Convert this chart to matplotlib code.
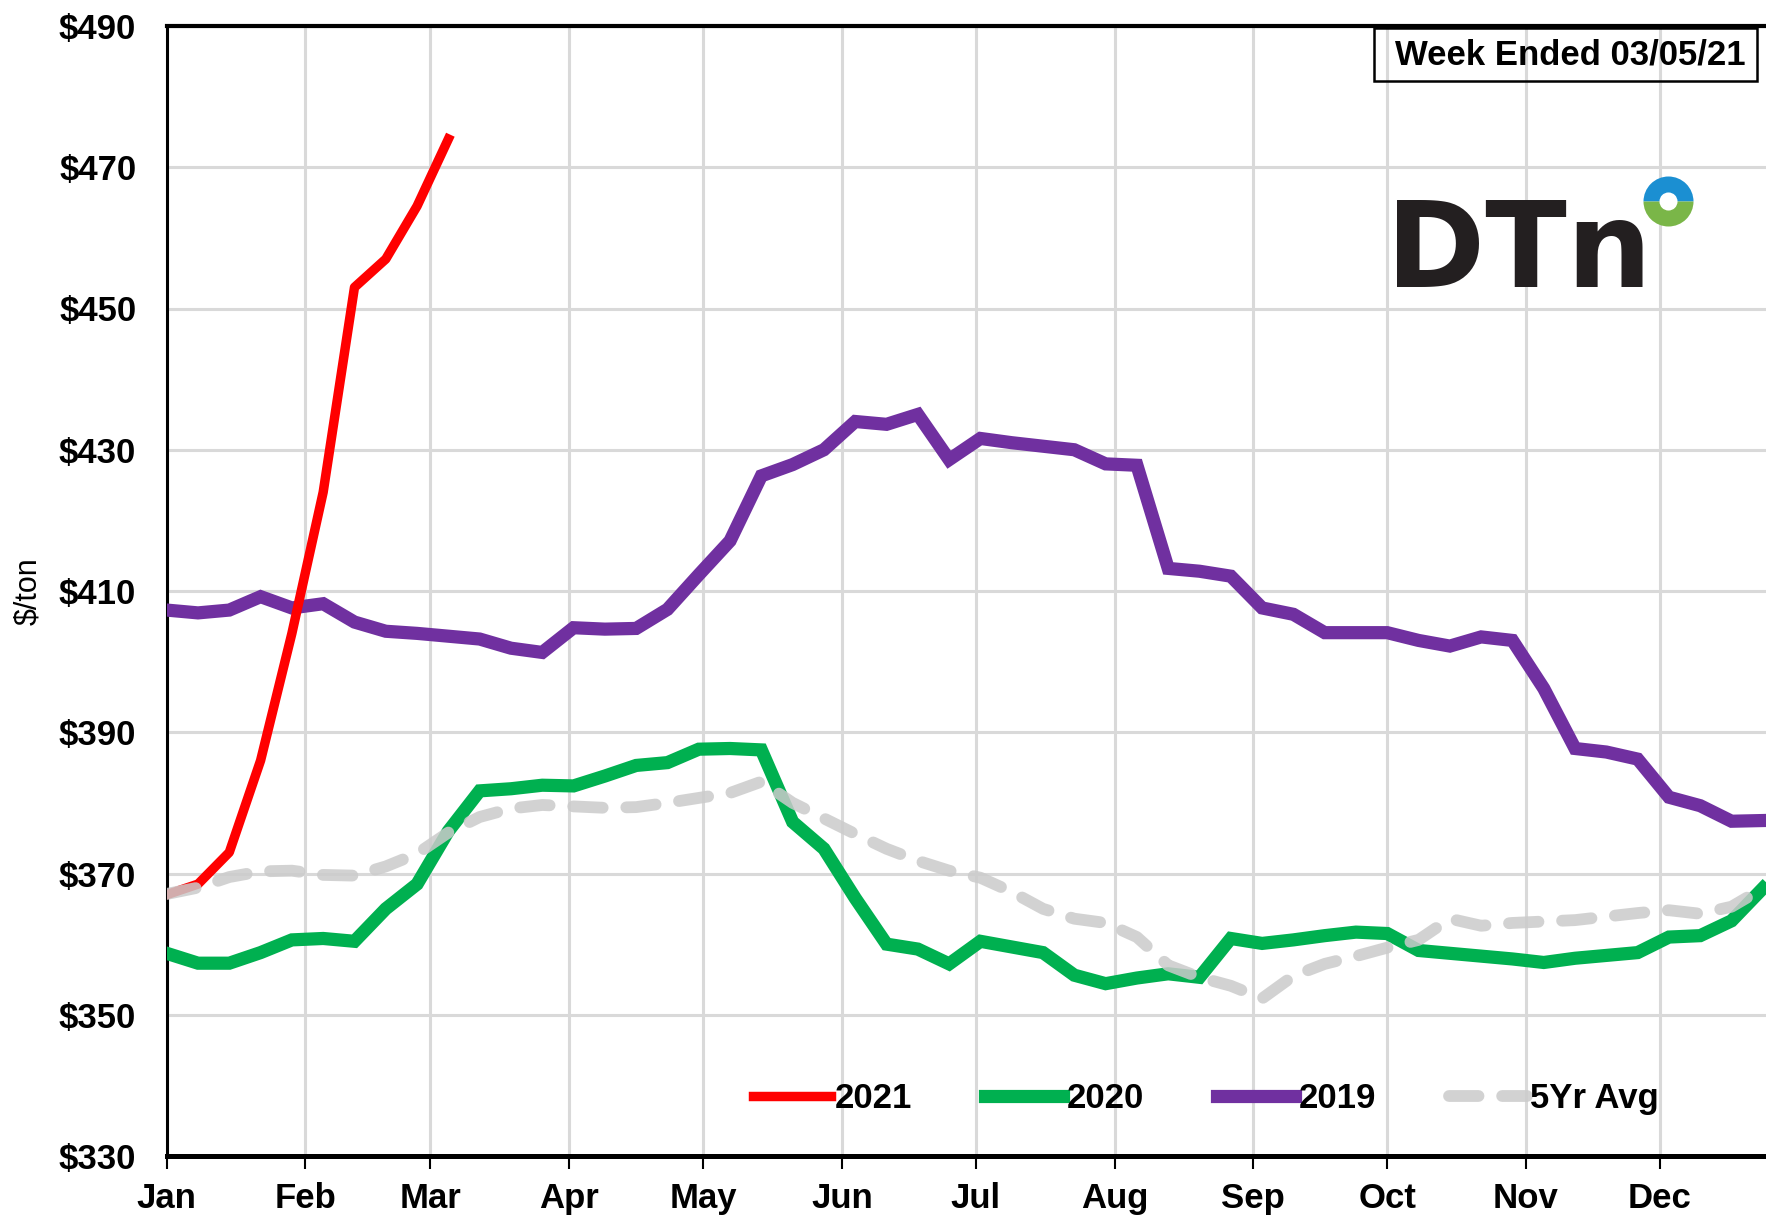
import numpy as np
import matplotlib
matplotlib.use("Agg")
import matplotlib.pyplot as plt
from matplotlib.lines import Line2D
from matplotlib.patches import Rectangle

# ---------------- data ----------------
months = ["Jan", "Feb", "Mar", "Apr", "May", "Jun", "Jul", "Aug", "Sep", "Oct", "Nov", "Dec"]
month_start_day = [0, 31, 59, 90, 120, 151, 181, 212, 243, 273, 304, 334]
y_ticks = [330, 350, 370, 390, 410, 430, 450, 470, 490]
y_tick_labels = ["$330", "$350", "$370", "$390", "$410", "$430", "$450", "$470", "$490"]

week_day = np.arange(52) * 7          # weekly observations, day of year

price_2021 = [367.0, 368.5, 373.0, 386.0, 404.0, 424.0, 453.0, 457.0, 464.5, 474.0]

price_2020 = [358.7, 357.3, 357.3, 358.8, 360.6, 360.8, 360.4, 365.0, 368.5, 376.0,
              381.7, 382.0, 382.5, 382.4, 383.8, 385.3, 385.7, 387.6, 387.7, 387.5,
              377.3, 373.5, 366.5, 360.0, 359.3, 357.2, 360.4, 359.6, 358.8, 355.6,
              354.4, 355.2, 355.8, 355.3, 360.8, 360.1, 360.6, 361.2, 361.7, 361.5,
              359.1, 358.7, 358.3, 357.9, 357.4, 358.0, 358.4, 358.8, 361.0, 361.2,
              363.3, 367.9]

price_2019 = [407.3, 406.9, 407.3, 409.2, 407.6, 408.2, 405.6, 404.3, 404.0, 403.6,
              403.2, 401.9, 401.3, 404.8, 404.6, 404.7, 407.4, 412.3, 417.1, 426.3,
              427.9, 430.0, 434.0, 433.6, 435.0, 428.6, 431.6, 431.0, 430.5, 430.0,
              428.0, 427.8, 413.2, 412.8, 412.1, 407.6, 406.7, 404.1, 404.1, 404.1,
              403.0, 402.2, 403.5, 403.0, 396.2, 387.7, 387.2, 386.2, 380.8, 379.6,
              377.4, 377.5]

price_5yr = [367.1, 368.0, 369.5, 370.3, 370.4, 369.8, 369.7, 371.0, 372.8, 375.8,
             378.0, 379.2, 379.7, 379.5, 379.3, 379.4, 380.0, 380.7, 381.4, 383.0,
             380.0, 377.8, 375.6, 373.5, 371.8, 370.4, 369.4, 367.4, 365.0, 363.6,
             363.0, 361.0, 357.0, 355.3, 354.1, 352.3, 355.5, 357.2, 358.3, 359.5,
             360.6, 363.6, 362.6, 363.0, 363.2, 363.4, 363.9, 364.4, 364.8, 364.3,
             365.3, 367.9]

series_labels = ["2021", "2020", "2019", "5Yr Avg"]

# ---------------- figure ----------------
W, H = 1766, 1218
fig = plt.figure(figsize=(W / 100, H / 100), dpi=100)
FONT = "Liberation Sans"

left_px, right_px, top_px, bot_px = 166.7, 166.7 + 365 * 4.471, 26, 1156
ax = fig.add_axes([left_px / W, 1 - bot_px / H, (right_px - left_px) / W, (bot_px - top_px) / H])

ax.plot(week_day, price_2019, color="#7030a0", lw=9.5, solid_joinstyle="miter",
        zorder=3, label=series_labels[2])
ax.plot(week_day, price_2020, color="#00b050", lw=9.5, solid_joinstyle="miter",
        zorder=4, label=series_labels[1])
ax.plot(week_day[:len(price_2021)], price_2021, color="#ff0000", lw=6.8,
        solid_joinstyle="round", zorder=5, label=series_labels[0])
ax.plot(week_day, price_5yr, color="#cbcbcb", alpha=0.85, lw=8.5,
        dashes=(2.5, 2.0), dash_capstyle="round", zorder=6, label=series_labels[3])

ax.set_xlim(0, 365)
ax.set_ylim(330, 490)
ax.set_xticks(month_start_day)
ax.set_xticklabels(months)
ax.set_yticks(y_ticks)
ax.set_yticklabels(y_tick_labels)

ax.grid(True, color="#d9d9d9", lw=2.2, zorder=0)
ax.set_axisbelow(True)

for lab in ax.get_xticklabels() + ax.get_yticklabels():
    lab.set_fontfamily(FONT)
    lab.set_fontweight("bold")
    lab.set_fontsize(25)

ax.tick_params(axis="x", direction="out", length=9.4, width=1.5, pad=9, colors="black")
ax.tick_params(axis="y", length=0, pad=22)

ax.spines["right"].set_visible(False)
ax.spines["left"].set_linewidth(2.2)
ax.spines["bottom"].set_linewidth(3.6)
ax.spines["top"].set_linewidth(3.0)
for s in ax.spines.values():
    s.set_color("black")

fig.text(28 / W, 1 - 591 / H, "$/ton", rotation=90, ha="center", va="center",
         fontsize=22, family=FONT)

# legend
handles, labels = ax.get_legend_handles_labels()
hmap = dict(zip(labels, handles))
leg = ax.legend([hmap[l] for l in series_labels], series_labels,
                loc="center", bbox_to_anchor=(0.637, 0.051), ncol=4, frameon=False,
                handlelength=2.25, handletextpad=0.1, columnspacing=2.1,
                prop={"family": FONT, "weight": "bold", "size": 25})

# Week ended box
fig.add_artist(Rectangle((1374 / W, 1 - 81 / H), (1757 - 1374) / W, 53 / H,
                         transform=fig.transFigure, fill=False, edgecolor="black", lw=1.8))
fig.text(1570 / W, 1 - 55 / H, "Week Ended 03/05/21", ha="center", va="center",
         fontsize=25, fontweight="bold", family=FONT)

# DTN logo
fig.text(1386 / W, 1 - 287 / H, "DTn", ha="left", va="baseline", fontsize=86,
         fontweight="bold", family="DejaVu Sans", color="#231f20")
fig.add_artist(Line2D([1668 / W], [1 - 201 / H], marker="o", markersize=36,
                      fillstyle="top", markerfacecolor="#1b8fd2",
                      markerfacecoloralt="#7ab648", markeredgewidth=0,
                      transform=fig.transFigure))
fig.add_artist(Line2D([1668 / W], [1 - 201 / H], marker="o", markersize=13,
                      markerfacecolor="white", markeredgewidth=0,
                      transform=fig.transFigure))

fig.savefig("out.png", dpi=100)
